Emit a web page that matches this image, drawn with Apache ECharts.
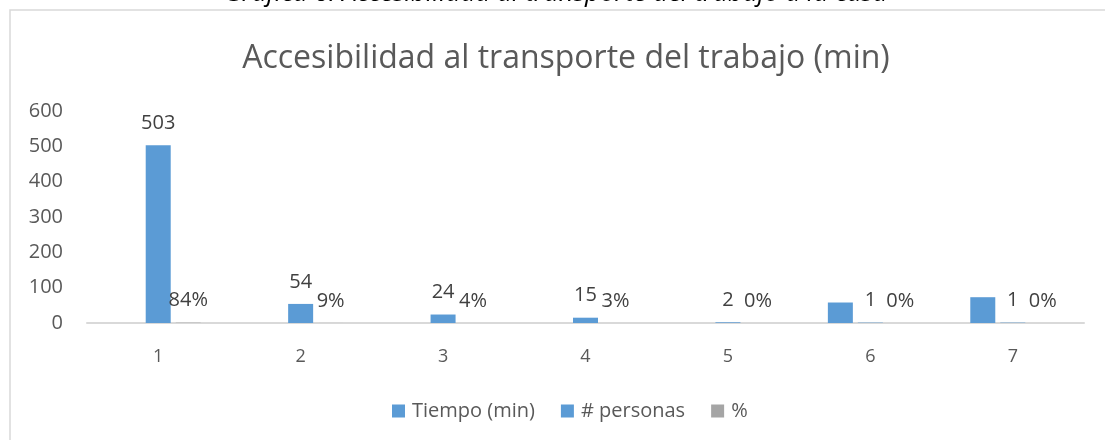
<!DOCTYPE html>
<html>
<head>
<meta charset="utf-8">
<script src="https://cdn.jsdelivr.net/npm/echarts@6/dist/echarts.min.js"></script>
<style>
  html, body { margin: 0; padding: 0; background: #ffffff; }
  #chart { width: 1105px; height: 440px; }
</style>
</head>
<body>
<div id="chart"></div>
<script>
// Travel time from work: people per category and share of the total
const categories = ['1', '2', '3', '4', '5', '6', '7'];
const tiempoMin = [null, null, null, null, null, 58, 73];
const personas = [503, 54, 24, 15, 2, 1, 1];
const porcentaje = [0.84, 0.09, 0.04, 0.03, 0, 0, 0];
const yTicks = { min: 0, max: 600, interval: 100 };

const BLUE = '#5b9bd5';
const GRAY = '#a5a5a5';
const FONT = '"Open Sans", "Noto Sans", sans-serif';

const chart = echarts.init(document.getElementById('chart'), null, { renderer: 'canvas' });

const labelStyle = {
  show: true,
  position: 'top',
  distance: 12,
  color: '#404040',
  fontFamily: FONT,
  fontSize: 20
};

chart.setOption({
  backgroundColor: '#ffffff',
  animation: false,
  title: {
    text: 'Accesibilidad al transporte del trabajo (min)',
    left: 561,
    textAlign: 'center',
    top: 38,
    textStyle: {
      color: '#595959',
      fontFamily: FONT,
      fontWeight: 'normal',
      fontSize: 32
    }
  },
  graphic: [
    {
      type: 'rect',
      shape: { x: 10, y: 10, width: 1120, height: 450 },
      style: { fill: 'none', stroke: '#d9d9d9', lineWidth: 1.5 },
      silent: true
    },
    {
      type: 'text',
      left: 224,
      top: -19,
      style: {
        text: 'Gráfica 6. Accesibilidad al transporte del trabajo a la casa',
        fill: '#000000',
        font: 'italic 26px ' + FONT
      },
      silent: true
    }
  ],
  legend: {
    left: 387,
    top: 396,
    icon: 'rect',
    itemWidth: 13,
    itemHeight: 13,
    itemGap: 26,
    textStyle: {
      color: '#595959',
      fontFamily: FONT,
      fontSize: 20,
      padding: [0, 0, 0, 2]
    },
    data: ['Tiempo (min)', '# personas', '%']
  },
  grid: {
    left: 87,
    right: 21,
    top: 111,
    height: 212,
    containLabel: false
  },
  xAxis: {
    type: 'category',
    data: categories,
    axisLine: { show: true, lineStyle: { color: '#d9d9d9', width: 2 } },
    axisTick: { show: false },
    axisLabel: {
      color: '#595959',
      fontFamily: FONT,
      fontSize: 18,
      margin: 25
    },
    splitLine: { show: false }
  },
  yAxis: {
    type: 'value',
    min: yTicks.min,
    max: yTicks.max,
    interval: yTicks.interval,
    axisLine: { show: false },
    axisTick: { show: false },
    splitLine: { show: false },
    axisLabel: {
      color: '#595959',
      fontFamily: FONT,
      fontSize: 20,
      margin: 24
    }
  },
  series: [
    {
      name: 'Tiempo (min)',
      type: 'bar',
      data: tiempoMin,
      barWidth: 25,
      barGap: '20%',
      itemStyle: { color: BLUE }
    },
    {
      name: '# personas',
      type: 'bar',
      data: personas,
      barWidth: 25,
      barGap: '20%',
      itemStyle: { color: BLUE },
      label: labelStyle
    },
    {
      name: '%',
      type: 'bar',
      data: porcentaje,
      barWidth: 25,
      barGap: '20%',
      itemStyle: { color: GRAY },
      label: Object.assign({}, labelStyle, {
        formatter: function (p) { return Math.round(p.value * 100) + '%'; }
      })
    }
  ]
});
</script>
</body>
</html>
